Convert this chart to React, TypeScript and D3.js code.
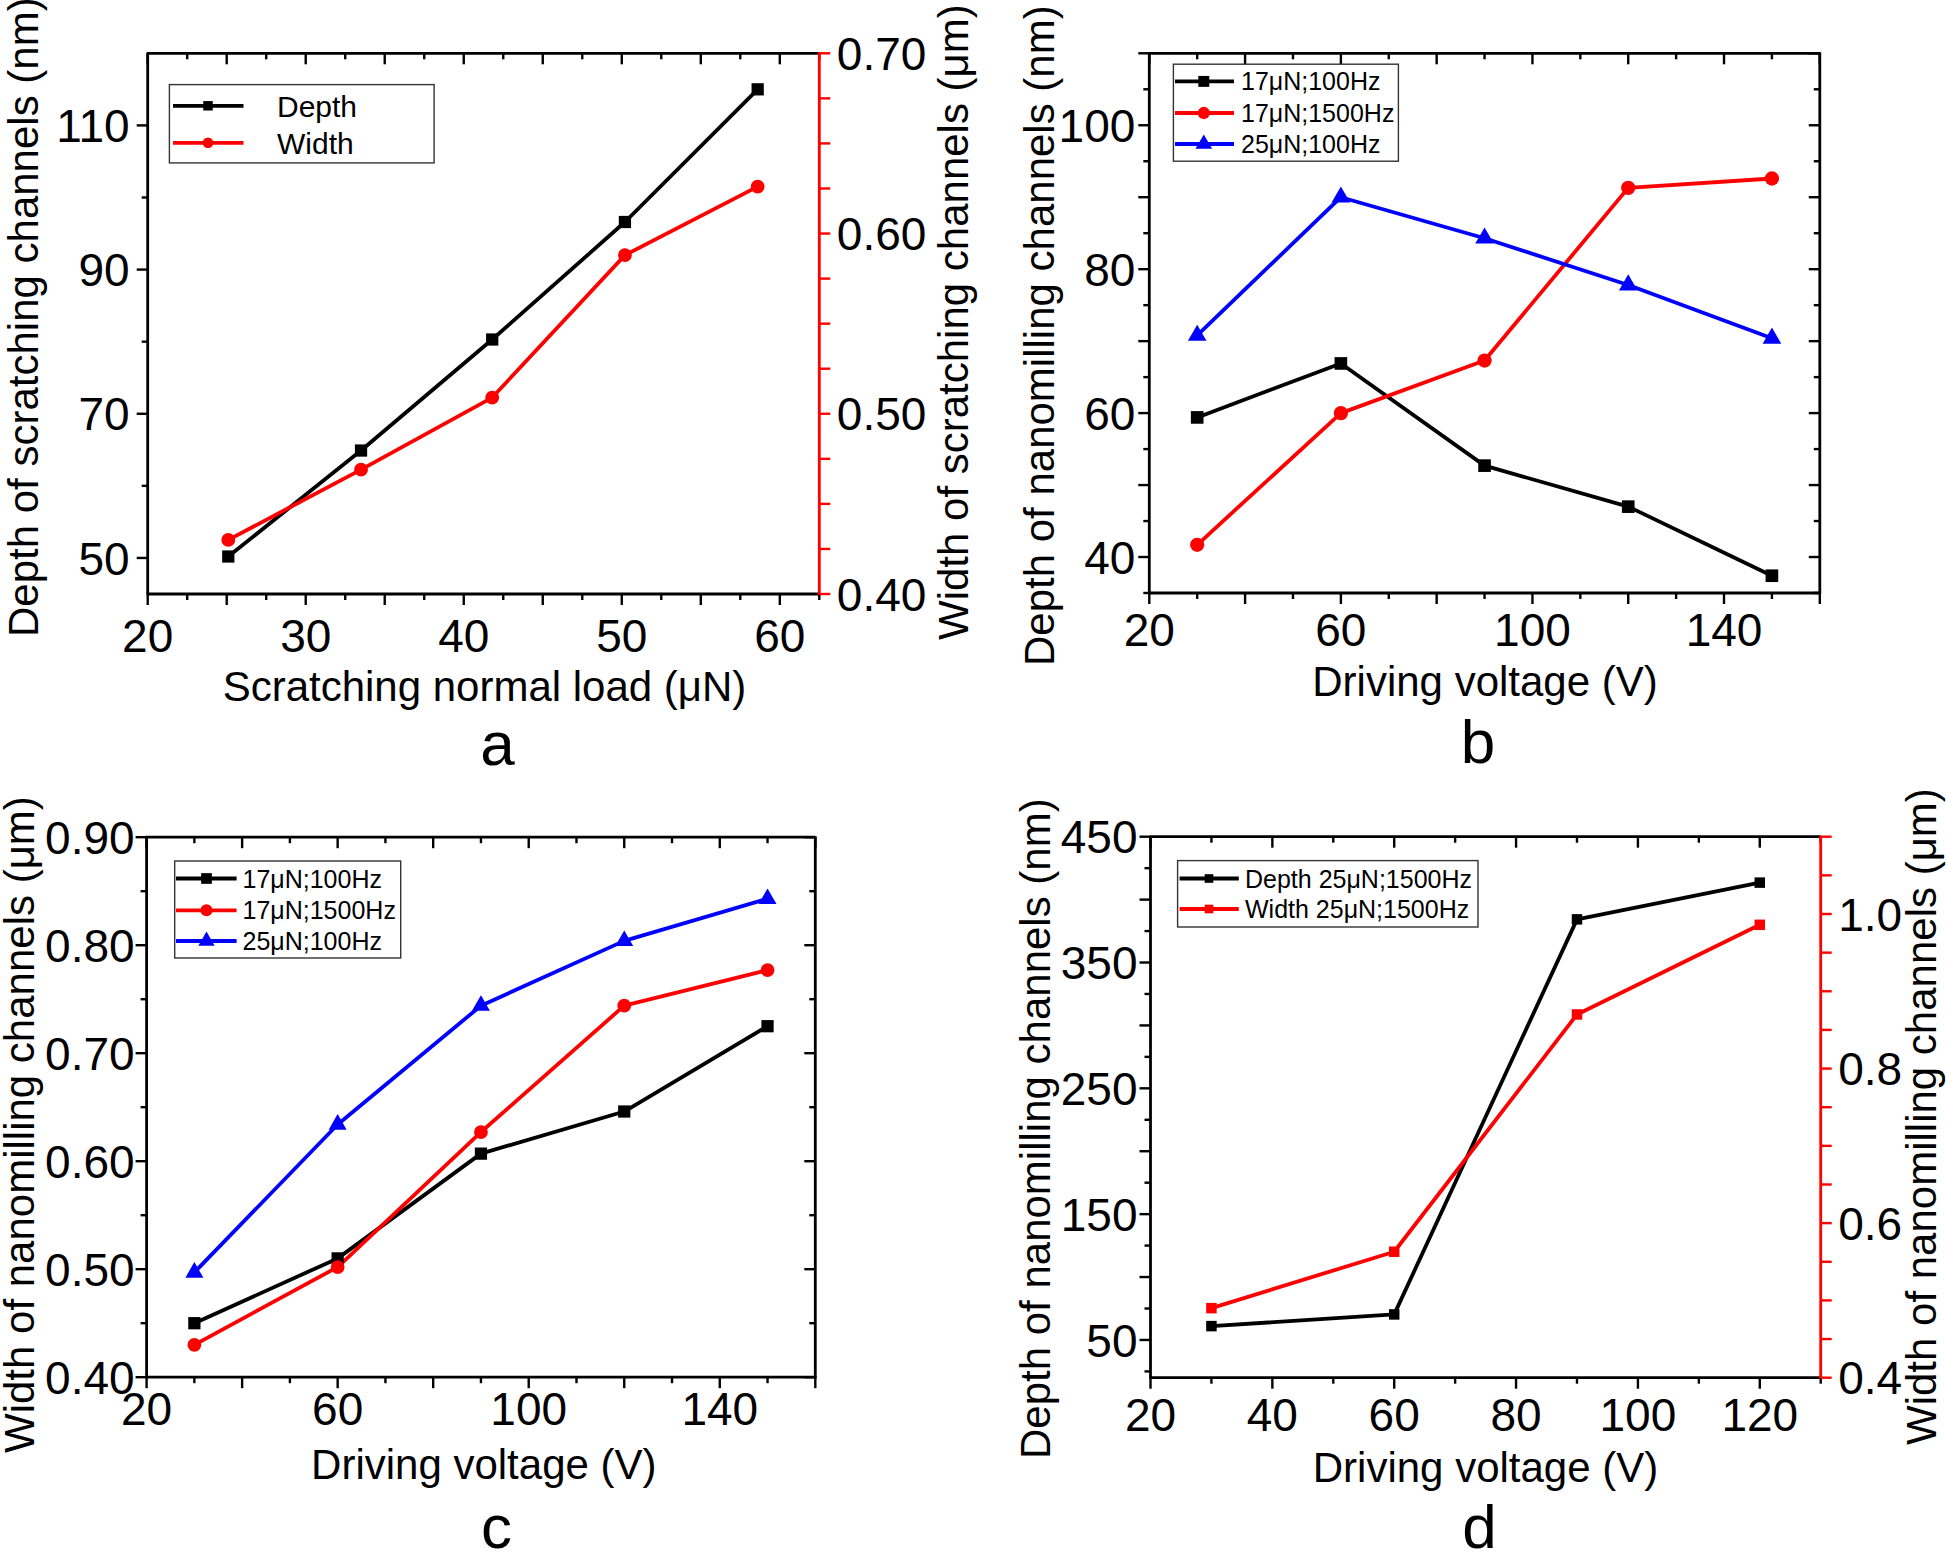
import React from "react";
import * as d3 from "d3";

// ---------------- DATA ----------------
// Panel a
const loadA = [25.1, 33.5, 41.8, 50.2, 58.6];
const depthA = [50.2, 64.9, 80.3, 96.6, 115.0];
const widthA = [0.430, 0.469, 0.509, 0.588, 0.626];
const xLabelsA = [20, 30, 40, 50, 60];
const yLabelsA = [50, 70, 90, 110];
const yRLabelsA = [0.4, 0.5, 0.6, 0.7];

// Panel b
const voltageB = [30, 60, 90, 120, 150];
const depthB17_100 = [59.4, 66.9, 52.7, 47.0, 37.4];
const depthB17_1500 = [41.7, 60.0, 67.3, 91.3, 92.6];
const depthB25_100 = [70.8, 90.0, 84.3, 77.8, 70.4];
const xLabelsB = [20, 60, 100, 140];
const yLabelsB = [40, 60, 80, 100];

// Panel c
const voltageC = [30, 60, 90, 120, 150];
const widthC17_100 = [0.450, 0.510, 0.607, 0.646, 0.725];
const widthC17_1500 = [0.430, 0.502, 0.627, 0.744, 0.777];
const widthC25_100 = [0.497, 0.634, 0.744, 0.804, 0.843];
const xLabelsC = [20, 60, 100, 140];
const yLabelsC = [0.4, 0.5, 0.6, 0.7, 0.8, 0.9];

// Panel d
const voltageD = [30, 60, 90, 120];
const depthD = [61.0, 70.3, 384.3, 413.5];
const widthD = [0.490, 0.563, 0.870, 0.986];
const xLabelsD = [20, 40, 60, 80, 100, 120];
const yLabelsD = [50, 150, 250, 350, 450];
const yRLabelsD = [0.4, 0.6, 0.8, 1.0];

const legendNamesBC = ["17μN;100Hz", "17μN;1500Hz", "25μN;100Hz"];
const legendNamesA = ["Depth", "Width"];
const legendNamesD = ["Depth 25μN;1500Hz", "Width 25μN;1500Hz"];

// ---------------- STYLE ----------------
const FONT = "'Liberation Sans', Arial, Helvetica, sans-serif";
const BLACK = "#000000";
const RED = "#ff0000";
const BLUE = "#0000ff";
const LINE_W = 3.8;

type SymName = "square" | "circle" | "triangle";
const symType = (s: SymName) =>
  s === "square" ? d3.symbolSquare : s === "circle" ? d3.symbolCircle : d3.symbolTriangle;

interface Series {
  xs: number[];
  ys: number[];
  axis: "L" | "R";
  color: string;
  sym: SymName;
  size: number;
}

interface YAxis {
  domain: [number, number];
  ticks: number[];
  labels: number[];
  isMajor: (v: number) => boolean;
  fmt: (v: number) => string;
  gap: number;
  color: string;
}

interface PanelProps {
  box: { l: number; r: number; t: number; b: number };
  xDomain: [number, number];
  xTicks: number[];
  xLabels: number[];
  xMajor: (v: number) => boolean;
  xLabelBaseline: number;
  yL: YAxis;
  yR?: YAxis;
  series: Series[];
  legend: {
    x: number; y: number; w: number; h: number;
    rows: number[]; lx1: number; lx2: number; mx: number; tx: number;
    fontSize: number; names: string[]; msize: number;
  };
  xTitle: { text: string; x: number; y: number };
  yLTitle: { text: string; x: number; y: number };
  yRTitle?: { text: string; x: number; y: number };
  letter: { text: string; x: number; y: number };
}

const near = (v: number, step: number) => Math.abs(v / step - Math.round(v / step)) < 1e-6;

function Panel(p: PanelProps) {
  const { box } = p;
  const x = d3.scaleLinear().domain(p.xDomain).range([box.l, box.r]);
  const yl = d3.scaleLinear().domain(p.yL.domain).range([box.b, box.t]);
  const yr = p.yR ? d3.scaleLinear().domain(p.yR.domain).range([box.b, box.t]) : null;
  const MAJ = 11;
  const MIN = 6;
  const axisW = 2.8;
  const tickW = 2.4;

  const els: React.ReactNode[] = [];
  p.xTicks.forEach((v, i) => {
    const px = x(v);
    const len = p.xMajor(v) ? MAJ : MIN;
    els.push(<line key={"xb" + i} x1={px} x2={px} y1={box.b} y2={box.b + len} stroke={BLACK} strokeWidth={tickW} />);
    els.push(<line key={"xt" + i} x1={px} x2={px} y1={box.t} y2={box.t + len} stroke={BLACK} strokeWidth={tickW} />);
  });
  p.xLabels.forEach((v, i) => {
    els.push(
      <text key={"xl" + i} x={x(v)} y={box.b + p.xLabelBaseline} textAnchor="middle" fontSize={46} fontFamily={FONT} fill={BLACK}>
        {String(v)}
      </text>
    );
  });
  p.yL.ticks.forEach((v, i) => {
    const py = yl(v);
    const len = p.yL.isMajor(v) ? MAJ : MIN;
    els.push(<line key={"yl" + i} x1={box.l - len} x2={box.l} y1={py} y2={py} stroke={BLACK} strokeWidth={tickW} />);
    if (!p.yR) {
      els.push(<line key={"yri" + i} x1={box.r - len} x2={box.r} y1={py} y2={py} stroke={BLACK} strokeWidth={tickW} />);
    }
  });
  p.yL.labels.forEach((v, i) => {
    els.push(
      <text key={"yll" + i} x={box.l - p.yL.gap} y={yl(v)} dy="0.36em" textAnchor="end" fontSize={46} fontFamily={FONT} fill={BLACK}>
        {p.yL.fmt(v)}
      </text>
    );
  });
  if (p.yR && yr) {
    p.yR.ticks.forEach((v, i) => {
      const py = yr(v);
      els.push(<line key={"yr" + i} x1={box.r} x2={box.r + 11} y1={py} y2={py} stroke={p.yR!.color} strokeWidth={tickW} />);
    });
    p.yR.labels.forEach((v, i) => {
      els.push(
        <text key={"yrl" + i} x={box.r + p.yR!.gap} y={yr(v)} dy="0.36em" textAnchor="start" fontSize={46} fontFamily={FONT} fill={BLACK}>
          {p.yR!.fmt(v)}
        </text>
      );
    });
  }

  els.push(<line key="fl" x1={box.l} x2={box.l} y1={box.t} y2={box.b} stroke={BLACK} strokeWidth={axisW} />);
  els.push(<line key="fb" x1={box.l - 1} x2={box.r + 1} y1={box.b} y2={box.b} stroke={BLACK} strokeWidth={axisW} />);
  els.push(<line key="ft" x1={box.l - 1} x2={box.r} y1={box.t} y2={box.t} stroke={BLACK} strokeWidth={axisW} />);
  els.push(<line key="fr" x1={box.r} x2={box.r} y1={box.t - 1} y2={box.b + 1} stroke={p.yR ? p.yR.color : BLACK} strokeWidth={axisW} />);

  p.series.forEach((s, si) => {
    const sy = s.axis === "L" ? yl : yr!;
    const pts: [number, number][] = s.xs.map((xv, i) => [x(xv), sy(s.ys[i])]);
    const path = d3.line()(pts) || "";
    els.push(<path key={"s" + si} d={path} fill="none" stroke={s.color} strokeWidth={LINE_W} strokeLinejoin="round" />);
  });
  p.series.forEach((s, si) => {
    const sy = s.axis === "L" ? yl : yr!;
    const sym = d3.symbol().type(symType(s.sym)).size(s.size)() || "";
    s.xs.forEach((xv, i) => {
      els.push(<path key={"m" + si + "_" + i} d={sym} transform={`translate(${x(xv)},${sy(s.ys[i])})`} fill={s.color} />);
    });
  });

  const L = p.legend;
  els.push(<rect key="lg" x={L.x} y={L.y} width={L.w} height={L.h} fill="white" stroke="#333" strokeWidth={1.4} />);
  p.series.forEach((s, si) => {
    const ry = L.rows[si];
    const sym = d3.symbol().type(symType(s.sym)).size(L.msize)() || "";
    els.push(<line key={"ll" + si} x1={L.lx1} x2={L.lx2} y1={ry} y2={ry} stroke={s.color} strokeWidth={LINE_W} />);
    els.push(<path key={"lm" + si} d={sym} transform={`translate(${L.mx},${ry})`} fill={s.color} />);
    els.push(
      <text key={"lt" + si} x={L.tx} y={ry} dy="0.36em" fontSize={L.fontSize} fontFamily={FONT} fill={BLACK}>
        {L.names[si]}
      </text>
    );
  });

  els.push(
    <text key="xt" x={p.xTitle.x} y={p.xTitle.y} textAnchor="middle" fontSize={42} fontFamily={FONT} fill={BLACK}>
      {p.xTitle.text}
    </text>
  );
  els.push(
    <text key="ylt" transform={`translate(${p.yLTitle.x},${p.yLTitle.y}) rotate(-90)`} textAnchor="start" fontSize={42} fontFamily={FONT} fill={BLACK}>
      {p.yLTitle.text}
    </text>
  );
  if (p.yRTitle) {
    els.push(
      <text key="yrt" transform={`translate(${p.yRTitle.x},${p.yRTitle.y}) rotate(-90)`} textAnchor="start" fontSize={42} fontFamily={FONT} fill={BLACK}>
        {p.yRTitle.text}
      </text>
    );
  }
  els.push(
    <text key="let" x={p.letter.x} y={p.letter.y} textAnchor="middle" fontSize={62} fontFamily={FONT} fill={BLACK}>
      {p.letter.text}
    </text>
  );
  return <g>{els}</g>;
}

export default function App() {
  const panelA: PanelProps = {
    box: { l: 147.7, r: 819.3, t: 53.3, b: 594 },
    xDomain: [20, 62.5],
    xTicks: d3.range(20, 62.51, 2.5),
    xLabels: xLabelsA,
    xMajor: (v) => near(v, 5),
    xLabelBaseline: 58,
    yL: {
      domain: [45, 120], ticks: d3.range(50, 115, 10), labels: yLabelsA,
      isMajor: (v) => near(v - 50, 20), fmt: (v) => String(v), gap: 18, color: BLACK,
    },
    yR: {
      domain: [0.4, 0.7], ticks: d3.range(0.4, 0.7001, 0.025), labels: yRLabelsA,
      isMajor: () => true, fmt: (v) => v.toFixed(2), gap: 17.5, color: RED,
    },
    series: [
      { xs: loadA, ys: depthA, axis: "L", color: BLACK, sym: "square", size: 150 },
      { xs: loadA, ys: widthA, axis: "R", color: RED, sym: "circle", size: 150 },
    ],
    legend: {
      x: 169.4, y: 84.6, w: 264.7, h: 78.3, rows: [105.8, 142.8],
      lx1: 173, lx2: 243.5, mx: 208, tx: 277, fontSize: 30, names: legendNamesA, msize: 90,
    },
    xTitle: { text: "Scratching normal load (μN)", x: 484.5, y: 701 },
    yLTitle: { text: "Depth of scratching channels (nm)", x: 38, y: 637 },
    yRTitle: { text: "Width of scratching channels (μm)", x: 968, y: 640 },
    letter: { text: "a", x: 497.6, y: 765 },
  };

  const panelB: PanelProps = {
    box: { l: 1149.3, r: 1819.8, t: 53.3, b: 593 },
    xDomain: [20, 160],
    xTicks: d3.range(20, 160.1, 10),
    xLabels: xLabelsB,
    xMajor: (v) => near(v, 20),
    xLabelBaseline: 53,
    yL: {
      domain: [35, 110], ticks: d3.range(35, 110.1, 5), labels: yLabelsB,
      isMajor: (v) => near(v, 10), fmt: (v) => String(v), gap: 14, color: BLACK,
    },
    series: [
      { xs: voltageB, ys: depthB17_100, axis: "L", color: BLACK, sym: "square", size: 160 },
      { xs: voltageB, ys: depthB17_1500, axis: "L", color: RED, sym: "circle", size: 160 },
      { xs: voltageB, ys: depthB25_100, axis: "L", color: BLUE, sym: "triangle", size: 150 },
    ],
    legend: {
      x: 1173.4, y: 64.2, w: 225, h: 97, rows: [81.4, 113, 144],
      lx1: 1175, lx2: 1234, mx: 1203.8, tx: 1241, fontSize: 25, names: legendNamesBC, msize: 120,
    },
    xTitle: { text: "Driving voltage (V)", x: 1485, y: 696 },
    yLTitle: { text: "Depth of nanomilling channels (nm)", x: 1054, y: 666 },
    letter: { text: "b", x: 1478, y: 763 },
  };

  const panelC: PanelProps = {
    box: { l: 146.6, r: 815.3, t: 837.2, b: 1377.2 },
    xDomain: [20, 160],
    xTicks: d3.range(20, 160.1, 10),
    xLabels: xLabelsC,
    xMajor: (v) => near(v, 20),
    xLabelBaseline: 48,
    yL: {
      domain: [0.4, 0.9], ticks: d3.range(0.4, 0.9001, 0.05), labels: yLabelsC,
      isMajor: (v) => near(v, 0.1), fmt: (v) => v.toFixed(2), gap: 12, color: BLACK,
    },
    series: [
      { xs: voltageC, ys: widthC17_100, axis: "L", color: BLACK, sym: "square", size: 150 },
      { xs: voltageC, ys: widthC17_1500, axis: "L", color: RED, sym: "circle", size: 150 },
      { xs: voltageC, ys: widthC25_100, axis: "L", color: BLUE, sym: "triangle", size: 140 },
    ],
    legend: {
      x: 174.7, y: 861, w: 226, h: 97, rows: [878.5, 910.3, 941],
      lx1: 176, lx2: 236.6, mx: 206.5, tx: 242.5, fontSize: 25, names: legendNamesBC, msize: 115,
    },
    xTitle: { text: "Driving voltage (V)", x: 483.8, y: 1479 },
    yLTitle: { text: "Width of nanomilling channels (μm)", x: 34, y: 1453 },
    letter: { text: "c", x: 496.6, y: 1548 },
  };

  const panelD: PanelProps = {
    box: { l: 1150.5, r: 1820.7, t: 836.7, b: 1377.7 },
    xDomain: [20, 130],
    xTicks: d3.range(20, 130.1, 10),
    xLabels: xLabelsD,
    xMajor: (v) => near(v, 20),
    xLabelBaseline: 53,
    yL: {
      domain: [20, 450], ticks: d3.range(25, 450.1, 25), labels: yLabelsD,
      isMajor: (v) => near(v, 50), fmt: (v) => String(v), gap: 13, color: BLACK,
    },
    yR: {
      domain: [0.4, 1.1], ticks: d3.range(0.4, 1.1001, 0.05), labels: yRLabelsD,
      isMajor: () => true, fmt: (v) => v.toFixed(1), gap: 17.5, color: RED,
    },
    series: [
      { xs: voltageD, ys: depthD, axis: "L", color: BLACK, sym: "square", size: 110 },
      { xs: voltageD, ys: widthD, axis: "R", color: RED, sym: "square", size: 110 },
    ],
    legend: {
      x: 1177.6, y: 860.6, w: 300.4, h: 66.4, rows: [878.5, 909],
      lx1: 1179.6, lx2: 1238.8, mx: 1209, tx: 1245, fontSize: 25, names: legendNamesD, msize: 75,
    },
    xTitle: { text: "Driving voltage (V)", x: 1485.5, y: 1482 },
    yLTitle: { text: "Depth of nanomilling channels (nm)", x: 1050, y: 1459 },
    yRTitle: { text: "Width of nanomilling channels (μm)", x: 1936, y: 1445 },
    letter: { text: "d", x: 1479.6, y: 1548 },
  };

  return (
    <svg
      width={1946}
      height={1555}
      viewBox="0 0 1946 1555"
      style={{ position: "absolute", left: 0, top: 0, background: "white" }}
    >
      <rect x={0} y={0} width={1946} height={1555} fill="white" />
      <Panel {...panelA} />
      <Panel {...panelB} />
      <Panel {...panelC} />
      <Panel {...panelD} />
    </svg>
  );
}
